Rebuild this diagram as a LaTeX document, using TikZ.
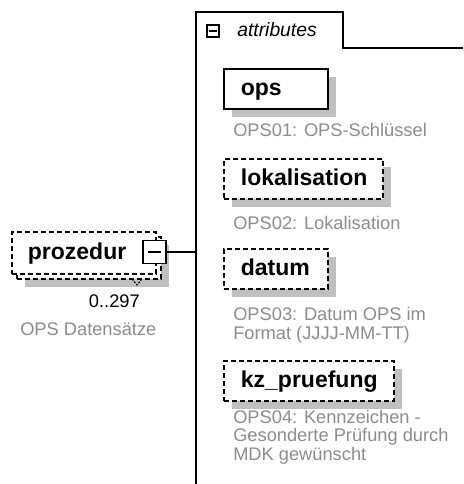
\documentclass[tikz,border=0pt]{standalone}
\usepackage{fontspec}
\setmainfont{Liberation Sans}
\newfontfamily\tahfont{Liberation Sans}
\usetikzlibrary{shadows}
\definecolor{descgray}{RGB}{140,140,140}
\definecolor{shadowgray}{RGB}{192,192,192}
\tikzset{
  elbox/.style={draw, line width=1.3pt, fill=white, anchor=north west,
    inner xsep=0pt, inner ysep=0pt, minimum height=30pt,
    text height=13pt, text depth=2.5pt, align=left,
    font=\tahfont\bfseries\fontsize{17.25pt}{18pt}\selectfont,
    drop shadow={shadow xshift=6pt, shadow yshift=-6pt, fill=shadowgray, opacity=1}},
  optbox/.style={elbox, dash pattern=on 3.75pt off 2.25pt},
  procbox/.style={draw, line width=1.3pt, fill=white, anchor=north west,
    dash pattern=on 3.75pt off 2.25pt, inner xsep=0pt, inner ysep=0pt,
    minimum height=31.5pt, text width=108pt, text height=13pt, text depth=2.5pt,
    align=left, font=\tahfont\bfseries\fontsize{17.25pt}{18pt}\selectfont},
  expander/.style={draw, line width=1.1pt, fill=white, inner sep=0pt},
  desc/.style={anchor=base west, inner sep=0pt, align=left, text=descgray,
    font=\tahfont\fontsize{13.7pt}{13.7pt}\selectfont},
  plain/.style={inner sep=0pt, font=\tahfont\fontsize{13.7pt}{13.7pt}\selectfont},
  conn/.style={line width=1.3pt}
}
\begin{document}
\begin{tikzpicture}[x=0.75pt,y=-0.75pt]
\useasboundingbox (0,0) rectangle (463,484);
% attributes container with tab
\draw[conn] (463,48) -- (343,48) -- (343,12) -- (196,12) -- (196,484);
\node[expander, minimum size=9pt] (tabexp) at (213,31) {};
\draw[line width=1.1pt] ([xshift=-3pt]tabexp.center) -- ([xshift=3pt]tabexp.center);
\node[plain, anchor=base west, font=\tahfont\itshape\fontsize{14.5pt}{14.5pt}\selectfont] (attrs) at (237,37) {attributes};
% attribute boxes
\node[elbox, text width=78pt] (ops) at (223,68) {\hspace*{12.75pt}ops};
\node[desc] (opsd) at (233,137) {OPS01: OPS-Schlüssel};
\node[optbox, text width=119.25pt] (lok) at (223,158) {\hspace*{12.75pt}lokalisation};
\node[desc] (lokd) at (233,229) {OPS02: Lokalisation};
\node[optbox, text width=78pt] (dat) at (223,248) {\hspace*{12.75pt}datum};
\node[desc] (datd) at (233,339) {OPS03: Datum OPS im\\Format (JJJJ-MM-TT)};
\node[optbox, text width=127.5pt] (kz) at (223,360) {\hspace*{12.75pt}kz\_pruefung};
\node[desc] (kzd) at (233,460) {OPS04: Kennzeichen -\\Gesonderte Prüfung durch\\MDK gewünscht};
% prozedur element (multiple occurrence)
\node[procbox, drop shadow={shadow xshift=6pt, shadow yshift=-6pt, fill=shadowgray, opacity=1}] (prozback) at (16,236) {};
\node[procbox] (prozedur) at (11,231) {\hspace*{12pt}prozedur};
\draw[line width=0.8pt, dash pattern=on 1.5pt off 1pt] (132,279) -- (137,285) -- (142,279);
\node[expander, minimum size=17pt] (pexp) at (154.5,252) {};
\draw[line width=1.1pt] ([xshift=-5pt]pexp.center) -- ([xshift=5pt]pexp.center);
\coordinate (attrL) at (196,252);
\draw[conn] (pexp.east) -- (attrL);
\node[plain, anchor=base east] (card) at (140,307) {0..297};
\node[desc] (prozd) at (20,335) {OPS Datensätze};
\end{tikzpicture}
\end{document}
